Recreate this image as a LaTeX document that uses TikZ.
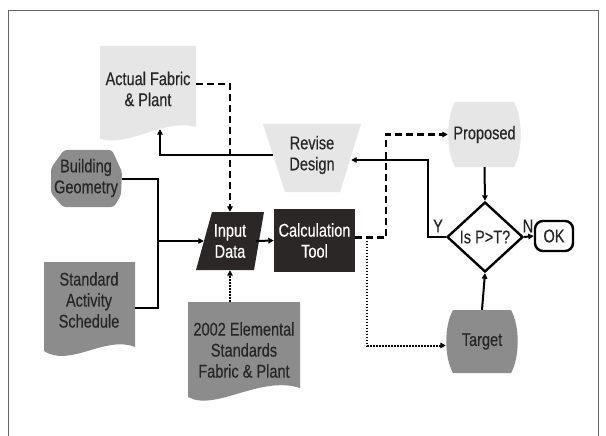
\documentclass[tikz,border=0pt]{standalone}
\usepackage{fontspec}
\setmainfont{Liberation Sans}[FakeStretch=0.79,FakeBold=0.35]
\usetikzlibrary{shapes.geometric,arrows.meta,calc}
\definecolor{lightg}{HTML}{E6E6E6}
\definecolor{darkg}{HTML}{8C8C8C}
\definecolor{blackbox}{HTML}{2B2727}
\definecolor{txtd}{HTML}{262626}
\tikzset{
  lbl/.style={align=center, font=\fontsize{18.4}{21}\selectfont, inner sep=0pt, text=txtd},
  wlbl/.style={lbl, text=white},
  tip/.style={-{Triangle[length=5.5pt,width=5.5pt]}},
  solidc/.style={line width=2pt, tip},
  dashc/.style={line width=2.2pt, dash pattern=on 7pt off 4pt, tip},
  dotc/.style={line width=2pt, dash pattern=on 1.6pt off 1.4pt, tip},
}
\begin{document}
\begin{tikzpicture}[x=1pt,y=-1pt]
\useasboundingbox (0,0) rectangle (606,436);
\fill[white] (0,0) rectangle (606,436);
% frame
\draw[gray!80!black, line width=0.8pt] (8,436) -- (8,10) -- (598,10) -- (598,436);

% ---- shapes ----
% Actual Fabric & Plant (document)
\fill[lightg] (100,46) -- (196,46) -- (196,127) .. controls (165,118) and (130,147) .. (100,139) -- cycle;
% Standard Activity Schedule (document)
\fill[darkg] (44,262) -- (135,262) -- (135,347) .. controls (105,335) and (70,368) .. (44,351) -- cycle;
% 2002 Elemental (document)
\fill[darkg] (188,302) -- (300,302) -- (300,388) .. controls (260,375) and (215,412) .. (188,397) -- cycle;
% Building Geometry
\fill[darkg, rounded corners=3pt] (64,150) -- (112,150) -- (122,172) -- (121,195) -- (114,207) -- (63,207) -- (51,193) -- (51,168) -- cycle;
% Revise Design (trapezoid)
\fill[lightg] (263,124) -- (361,124) -- (340,192) -- (285,192) -- cycle;
% Input Data (parallelogram)
\fill[blackbox] (212,212) -- (264,212) -- (254,270) -- (196,270) -- cycle;
% Calculation Tool
\fill[blackbox] (274,209) rectangle (355,272);
% Proposed (barrel)
\fill[lightg] (455,102) -- (514,102) .. controls (523,118) and (523,151) .. (514,167) -- (455,167) .. controls (446,151) and (446,118) .. (455,102) -- cycle;
% Target (barrel)
\fill[darkg] (453,310) -- (511,310) .. controls (520,326) and (520,357) .. (511,373) -- (453,373) .. controls (444,357) and (444,326) .. (453,310) -- cycle;

% ---- nodes ----
\node[lbl, minimum width=96pt, minimum height=84pt] (af) at (148,89) {Actual Fabric\\\& Plant};
\node[lbl, minimum width=71pt, minimum height=57pt] (bg) at (86,178) {Building\\Geometry};
\node[lbl, minimum width=91pt, minimum height=76pt] (sa) at (89,300) {Standard\\Activity\\Schedule};
\node[lbl, minimum width=112pt, minimum height=96pt] (el) at (244,350) {2002 Elemental\\Standards\\Fabric \& Plant};
\node[lbl, minimum width=78pt, minimum height=68pt] (rd) at (312,155) {Revise\\Design};
\node[wlbl, minimum width=52pt, minimum height=58pt] (in) at (230,241) {Input\\Data};
\node[wlbl, minimum width=81pt, minimum height=63pt] (calc) at (314.5,240.5) {Calculation\\Tool};
\node[lbl, minimum width=73pt, minimum height=65pt] (prop) at (484.5,134.5) {Proposed};
\node[lbl, minimum width=72pt, minimum height=63pt] (tg) at (482,341.5) {Target};
\node[lbl, diamond, draw=black, fill=white, line width=2.4pt, minimum width=76pt, minimum height=70pt, text=txtd] (dia) at (485,237) {Is P>T?};
\node[lbl, draw=black, fill=white, line width=2.4pt, rounded corners=8pt, minimum width=38pt, minimum height=30pt] (ok) at (554,236) {OK};

% ---- connectors ----
\coordinate (m) at (158,241);
\draw[line width=2pt] ([yshift=-1pt]bg.east) -| (m);
\draw[line width=2pt] ([yshift=-8pt]sa.east) -| (m);
\draw[solidc] (m) -- (in.west);
\draw[solidc] (in.east) -- (calc.west);
\draw[dashc] ([yshift=5pt]af.east) -| (in.north);
\draw[dotc] (in.south |- el.north) -- (in.south);
\draw[solidc] (rd.west) -| ([xshift=12pt,yshift=2pt]af.south);
\draw[dashc] ([yshift=3pt]calc.east) -- ++(31,0) |- (prop.west);
\draw[dotc] ([xshift=12pt,yshift=3pt]calc.east) |- ([yshift=-4pt]tg.west);
\draw[solidc] (prop.south) -- (dia.north);
\draw[solidc] (tg.north) -- (dia.south);
\draw[solidc] (dia.west) -- ++(-18,0) |- ([yshift=-5pt]rd.east);
\draw[solidc] (dia.east) -- (ok.west);
\node[lbl] (ylab) at (438,226) {Y};
\node[lbl] (nlab) at (528,226) {N};
\end{tikzpicture}
\end{document}
